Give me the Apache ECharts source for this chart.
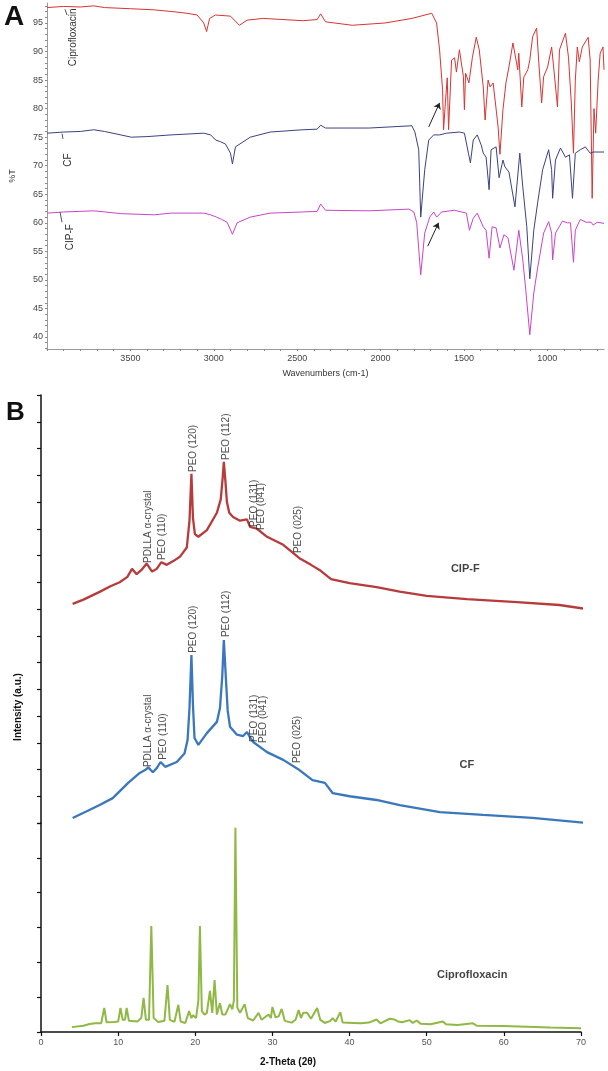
<!DOCTYPE html>
<html><head><meta charset="utf-8">
<script src="https://cdn.jsdelivr.net/npm/echarts@6/dist/echarts.min.js"></script>
<style>html,body{margin:0;padding:0;background:#fff}#c{width:608px;height:1071px}</style>
</head><body><div id="c"></div>
<script>
// ---------- Panel A: FTIR, [wavenumber cm-1, %T] ----------
const ftirCipro = [[4000,97.7],[3900,97.9],[3800,97.8],[3720,98.0],[3655,97.7],[3500,97.5],[3357,97.3],[3250,97.0],[3161,96.7],[3100,96.4],[3060,95.0],[3043,93.5],[3025,95.8],[2990,96.4],[2900,96.2],[2846,94.6],[2800,95.5],[2704,95.8],[2466,95.4],[2380,95.6],[2359,96.6],[2330,95.2],[2169,94.6],[1973,95.0],[1812,95.8],[1693,96.7],[1664,95.0],[1646,90.3],[1628,83.3],[1622,76.3],[1610,81.5],[1600,85.4],[1592,76.3],[1574,88.5],[1556,88.9],[1545,86.4],[1527,90.3],[1503,85.6],[1497,79.8],[1490,86.2],[1470,84.5],[1449,89.0],[1426,92.5],[1408,90.3],[1384,83.8],[1373,78.0],[1355,85.0],[1343,83.8],[1325,84.5],[1313,81.5],[1295,76.8],[1284,72.0],[1266,79.8],[1248,84.5],[1230,87.3],[1206,91.5],[1177,86.8],[1171,89.7],[1153,80.3],[1141,85.5],[1117,86.8],[1105,88.5],[1088,92.6],[1064,94.1],[1052,88.5],[1034,81.0],[1022,85.6],[998,87.3],[974,90.8],[962,87.3],[939,80.3],[927,90.3],[891,93.2],[873,89.0],[856,81.0],[843,72.2],[832,85.0],[820,90.8],[808,88.2],[790,90.8],[755,92.5],[743,88.5],[731,64.3],[720,80.0],[710,75.7],[695,85.0],[683,89.7],[666,90.8],[660,86.8]];
const ftirCF = [[4000,75.7],[3900,75.9],[3800,76.0],[3720,76.3],[3655,76.0],[3494,75.0],[3400,75.1],[3256,75.4],[3060,75.7],[3019,75.4],[2989,74.5],[2959,74.2],[2930,73.8],[2900,72.2],[2888,70.3],[2870,73.3],[2781,75.0],[2662,75.9],[2466,76.3],[2380,76.4],[2359,77.1],[2330,76.6],[2068,76.6],[1812,77.0],[1794,75.9],[1771,72.8],[1759,61.0],[1735,69.3],[1711,74.5],[1681,75.4],[1646,75.4],[1604,75.7],[1527,75.9],[1497,75.7],[1473,72.2],[1461,70.5],[1444,74.5],[1420,75.4],[1396,73.6],[1384,72.2],[1367,71.5],[1349,65.8],[1337,72.8],[1307,73.3],[1289,67.9],[1266,71.0],[1254,69.8],[1230,68.9],[1194,62.8],[1165,72.2],[1147,66.3],[1123,59.3],[1105,50.2],[1081,58.7],[1058,63.5],[1028,69.3],[992,72.8],[974,69.3],[968,64.3],[951,71.0],[921,73.1],[891,71.5],[867,71.9],[849,64.3],[832,72.2],[802,72.8],[772,73.3],[743,72.2],[725,72.4],[695,72.4],[660,72.4]];
const ftirCIPF = [[4000,61.7],[3900,61.9],[3720,62.1],[3650,61.9],[3553,61.6],[3357,61.4],[3256,61.7],[3060,61.7],[3019,61.4],[2983,61.0],[2953,60.6],[2920,60.1],[2888,58.0],[2860,60.0],[2781,61.0],[2662,61.7],[2466,61.9],[2380,62.0],[2359,63.3],[2330,62.2],[2068,62.1],[1830,62.4],[1800,61.9],[1783,60.0],[1759,50.9],[1735,58.2],[1705,61.0],[1681,61.9],[1663,61.0],[1634,61.9],[1556,62.2],[1515,61.9],[1485,61.7],[1467,58.7],[1444,60.8],[1420,61.7],[1384,59.3],[1367,58.7],[1349,53.8],[1331,59.3],[1307,59.1],[1284,55.6],[1260,57.9],[1236,57.4],[1200,51.7],[1171,58.7],[1147,53.5],[1129,48.2],[1105,40.4],[1081,47.7],[1058,52.1],[1022,58.2],[992,60.2],[974,58.2],[968,53.5],[951,58.2],[909,60.3],[879,60.0],[861,60.0],[843,53.1],[832,58.7],[802,60.6],[767,60.1],[737,60.1],[725,59.6],[701,60.1],[660,59.9]];
const ftirXLabels = [1000,1500,2000,2500,3000,3500];
const ftirYLabels = [40,45,50,55,60,65,70,75,80,85,90,95];
const ftirNames = [["Ciprofloxacin",3845,92.5],["CF",3874,71.0],["CIP-F",3862,57.5]];
const ftirArrows = [[[1711,76.8],[1646,81.0]],[[1717,55.9],[1652,60.0]]];
const ftirLeaders = [[[3892,97.4],[3880,96.4]],[[3910,75.6],[3904,74.7]],[[3922,61.9],[3910,60.1]]];

// ---------- Panel B: XRD, [2-theta, intensity (offset a.u.)] ----------
const xrdCIPF = [[4.1,8.19],[5.5,8.35],[7.6,8.64],[9.0,8.85],[10.2,9.0],[11.2,9.2],[11.8,9.5],[12.4,9.3],[13.0,9.45],[13.7,9.7],[14.4,9.4],[15.0,9.5],[15.6,9.75],[16.3,9.65],[17.2,9.8],[18.0,9.95],[18.9,10.3],[19.25,11.3],[19.5,13.05],[19.7,11.4],[19.95,10.8],[20.4,10.7],[21.5,10.95],[22.8,11.6],[23.3,12.1],[23.55,12.9],[23.7,13.5],[23.9,12.8],[24.1,12.0],[24.4,11.6],[24.9,11.44],[25.8,11.3],[26.7,11.35],[27.1,11.07],[28.0,11.0],[29.3,10.7],[31.4,10.4],[33.5,9.9],[35.0,9.65],[36.1,9.46],[37.6,9.12],[40.0,8.97],[43.5,8.82],[46.5,8.65],[50.0,8.49],[55.2,8.37],[61.7,8.26],[67.2,8.15],[70.7,8.0]];
const xrdCF = [[4.1,0.19],[6.0,0.45],[7.6,0.67],[9.3,0.93],[11.3,1.5],[12.8,1.87],[13.5,1.98],[13.9,2.08],[14.5,1.9],[15.0,2.05],[15.5,2.28],[16.1,2.1],[17.6,2.28],[18.6,2.6],[19.0,3.1],[19.25,4.3],[19.5,6.28],[19.7,4.4],[19.9,3.18],[20.4,2.92],[21.5,3.36],[22.8,3.78],[23.2,4.3],[23.5,5.5],[23.7,6.84],[23.95,5.5],[24.2,4.2],[24.5,3.6],[25.4,3.3],[26.2,3.25],[26.7,3.4],[27.1,3.2],[27.5,3.03],[29.3,2.65],[31.4,2.36],[33.5,1.98],[35.2,1.6],[36.8,1.5],[37.8,1.12],[40.0,1.0],[43.5,0.86],[46.5,0.67],[51.7,0.41],[57.3,0.3],[63.7,0.19],[70.7,0.0]];
const xrdCipro = [[4.0,0.14],[5.5,0.18],[6.3,0.23],[7.0,0.25],[7.8,0.25],[8.2,0.69],[8.5,0.28],[9.5,0.29],[10.0,0.3],[10.3,0.69],[10.6,0.34],[10.9,0.36],[11.1,0.69],[11.4,0.32],[12.5,0.3],[13.0,0.4],[13.3,0.98],[13.6,0.35],[14.0,0.35],[14.3,3.04],[14.6,0.4],[15.2,0.29],[16.0,0.32],[16.4,1.35],[16.7,0.35],[17.3,0.29],[17.8,0.78],[18.1,0.3],[18.7,0.26],[19.2,0.6],[19.5,0.4],[19.7,0.48],[20.1,0.4],[20.4,0.9],[20.6,3.04],[20.85,0.6],[21.2,0.5],[21.5,0.55],[21.9,1.18],[22.2,0.55],[22.5,1.49],[22.8,0.5],[23.2,0.83],[23.5,0.5],[23.9,0.5],[24.3,0.7],[24.5,0.8],[24.8,0.65],[25.0,0.9],[25.2,5.86],[25.45,0.7],[25.8,0.55],[26.4,0.8],[26.8,0.4],[27.5,0.33],[28.2,0.55],[28.6,0.35],[29.2,0.45],[29.5,0.5],[29.8,0.4],[30.0,0.72],[30.4,0.42],[30.8,0.45],[31.2,0.66],[31.6,0.32],[32.5,0.27],[33.0,0.35],[33.4,0.63],[33.7,0.4],[34.0,0.55],[34.5,0.55],[35.0,0.38],[35.8,0.69],[36.2,0.35],[36.8,0.26],[37.5,0.32],[37.8,0.4],[38.2,0.3],[38.8,0.57],[39.1,0.27],[40.5,0.26],[41.5,0.25],[42.5,0.27],[43.5,0.36],[44.0,0.25],[45.2,0.38],[45.8,0.36],[46.3,0.3],[46.8,0.28],[47.8,0.34],[48.2,0.26],[48.7,0.33],[49.2,0.24],[50.5,0.22],[51.5,0.27],[52.1,0.3],[52.5,0.22],[54.0,0.2],[56.0,0.25],[56.5,0.18],[60.0,0.17],[63.0,0.15],[66.0,0.13],[70.0,0.11]];
const peakLabelsCIPF = [[13.9,9.72,"PDLLA α-crystal"],[15.7,9.83,"PEO (110)"],[19.7,13.12,"PEO (120)"],[24.0,13.57,"PEO (112)"],[27.7,11.07,"PEO (131)"],[28.6,10.95,"PEO (041)"],[33.3,10.09,"PEO (025)"]];
const peakLabelsCF = [[13.9,2.09,"PDLLA α-crystal"],[15.8,2.36,"PEO (110)"],[19.7,6.36,"PEO (120)"],[24.0,6.95,"PEO (112)"],[27.7,3.03,"PEO (131)"],[28.8,2.99,"PEO (041)"],[33.2,2.24,"PEO (025)"]];
const sampleNamesUpper = [[55.0,9.5,"CIP-F"],[55.2,2.17,"CF"]];
const sampleNamesLower = [[55.9,1.64,"Ciprofloxacin"]];

const FONT = 'Liberation Sans, Arial, sans-serif';
const chart = echarts.init(document.getElementById('c'), null, {renderer:'canvas'});

const ftirMinor = [];
for (let w = 700; w <= 4000; w += 100) ftirMinor.push(w);
const ftirYMinor = [];
for (let t = 38; t <= 98; t += 1) ftirYMinor.push(t);

function lineSeries(data, color, width, xi, yi, extra) {
  return Object.assign({
    type:'line', data, xAxisIndex:xi, yAxisIndex:yi, showSymbol:false, symbol:'none',
    lineStyle:{color, width}, silent:true, clip:false, animation:false, z:2
  }, extra || {});
}
function textSeries(data, xi, yi, opts) {
  return {
    type:'scatter', data, xAxisIndex:xi, yAxisIndex:yi, symbolSize:1, silent:true, animation:false,
    itemStyle:{color:'rgba(0,0,0,0)'}, z:5,
    label:Object.assign({show:true, position:'inside', formatter:p=>p.value[2], fontFamily:FONT}, opts)
  };
}
function segLines(list, withArrow) {
  return {
    silent:true, animation:false,
    symbol: withArrow ? ['none','arrow'] : ['none','none'], symbolSize: withArrow ? 6 : 0,
    lineStyle:{color: withArrow ? '#222' : '#555', width:1, type:'solid'},
    label:{show:false},
    data: list.map(s => [{coord:s[0]},{coord:s[1]}])
  };
}

const option = {
  backgroundColor:'#fff',
  animation:false,
  grid:[
    {left:42, top:3, width:562, height:346},
    {left:41, top:395, width:540, height:428},
    {left:41, top:823, width:540, height:209}
  ],
  xAxis:[
    {gridIndex:0, type:'value', inverse:true, min:660, max:4000,
     name:'Wavenumbers (cm-1)', nameLocation:'middle', nameGap:20,
     nameTextStyle:{fontFamily:FONT, fontSize:9, color:'#333'},
     axisLine:{show:true, lineStyle:{color:'#9a9a9a', width:1}},
     axisTick:{show:true, customValues:ftirMinor, length:2, lineStyle:{color:'#888'}},
     axisLabel:{customValues:ftirXLabels, formatter:v=>String(v), fontFamily:FONT, fontSize:9, color:'#444', margin:5},
     splitLine:{show:false}},
    {gridIndex:1, type:'value', min:0, max:70, show:false},
    {gridIndex:2, type:'value', min:0, max:70, interval:10,
     axisLine:{show:true, lineStyle:{color:'#111', width:1.5}},
     axisTick:{show:true, length:4, lineStyle:{color:'#111', width:1.2}},
     axisLabel:{fontFamily:FONT, fontSize:9, color:'#555', margin:6},
     splitLine:{show:false}}
  ],
  yAxis:[
    {gridIndex:0, type:'value', min:37.9, max:98.5,
     name:'%T', nameLocation:'middle', nameGap:30, nameRotate:90,
     nameTextStyle:{fontFamily:FONT, fontSize:9, color:'#333'},
     axisLine:{show:true, lineStyle:{color:'#9a9a9a', width:1}},
     axisTick:{show:true, customValues:ftirYMinor, length:2, lineStyle:{color:'#888'}},
     axisLabel:{customValues:ftirYLabels, fontFamily:FONT, fontSize:9, color:'#444', margin:4},
     splitLine:{show:false}},
    {gridIndex:1, type:'value', min:0, max:16, interval:1,
     axisLine:{show:true, lineStyle:{color:'#111', width:1.5}},
     axisTick:{show:true, length:4, lineStyle:{color:'#111', width:1.2}},
     axisLabel:{show:false}, splitLine:{show:false}},
    {gridIndex:2, type:'value', min:0, max:6, interval:1,
     axisLine:{show:true, lineStyle:{color:'#111', width:1.5}},
     axisTick:{show:true, length:4, lineStyle:{color:'#111', width:1.2}},
     axisLabel:{show:false}, splitLine:{show:false}}
  ],
  series:[
    lineSeries(ftirCipro, '#d83434', 1, 0, 0, {markLine:segLines(ftirArrows.slice(0,1), true)}),
    lineSeries(ftirCF, '#3c4183', 1, 0, 0, {markLine:segLines(ftirLeaders, false)}),
    lineSeries(ftirCIPF, '#c845c8', 1, 0, 0, {markLine:segLines(ftirArrows.slice(1), true)}),
    lineSeries(xrdCIPF, '#b83b3b', 2.3, 1, 1),
    lineSeries(xrdCF, '#3b77bc', 2.3, 1, 1),
    lineSeries(xrdCipro, '#8fb845', 2.0, 2, 2),
    textSeries(peakLabelsCIPF, 1, 1, {rotate:90, align:'left', verticalAlign:'middle', fontSize:10, color:'#222'}),
    textSeries(peakLabelsCF, 1, 1, {rotate:90, align:'left', verticalAlign:'middle', fontSize:10, color:'#222'}),
    textSeries(sampleNamesUpper, 1, 1, {align:'center', verticalAlign:'middle', fontSize:11, fontWeight:'bold', color:'#111'}),
    textSeries(sampleNamesLower, 2, 2, {align:'center', verticalAlign:'middle', fontSize:11, fontWeight:'bold', color:'#111'})
  ],
  graphic:[
    {type:'text', left:4, top:3, silent:true, style:{text:'A', fontFamily:FONT, fontSize:28, fontWeight:'bold', fill:'#111'}},
    {type:'text', left:6, top:400, silent:true, style:{text:'B', fontFamily:FONT, fontSize:26, fontWeight:'bold', fill:'#111'}},
    {type:'text', x:18, y:707, rotation:Math.PI/2, silent:true,
     style:{text:'Intensity (a.u.)', fontFamily:FONT, fontSize:10, fontWeight:'bold', fill:'#111', align:'center', verticalAlign:'middle'}},
    {type:'text', x:288, y:1062, silent:true,
     style:{text:'2-Theta (2θ)', fontFamily:FONT, fontSize:10, fontWeight:'bold', fill:'#111', align:'center', verticalAlign:'middle'}}
  ]
};
chart.setOption(option);

// FTIR sample names, placed through the FTIR grid's own scales
const nameGraphics = ftirNames.map(n => {
  const p = chart.convertToPixel({gridIndex:0}, [n[1], n[2]]);
  return {type:'text', x:p[0], y:p[1], rotation:Math.PI/2, silent:true, z:10,
    style:{text:n[0], fontFamily:FONT, fontSize:10, fill:'#333', align:'center', verticalAlign:'middle'}};
});
chart.setOption({graphic: option.graphic.concat(nameGraphics)});
</script>
</body></html>
